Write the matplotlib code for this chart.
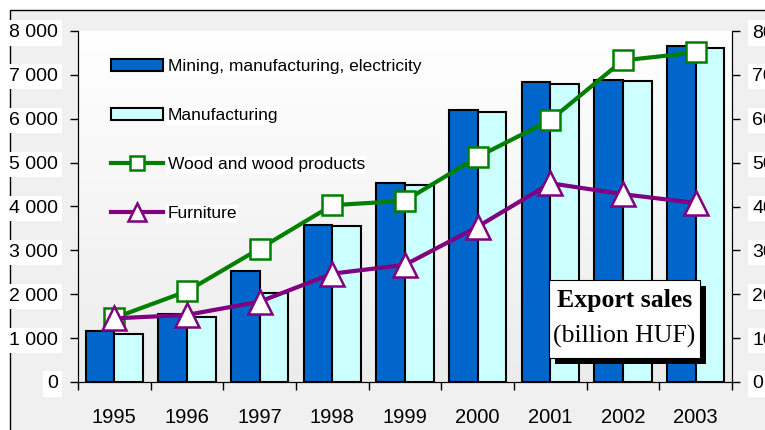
import numpy as np
import matplotlib
matplotlib.use("Agg")
import matplotlib.pyplot as plt
from matplotlib.colors import LinearSegmentedColormap
from matplotlib.patches import Rectangle

years = ["1995", "1996", "1997", "1998", "1999", "2000", "2001", "2002", "2003"]
mining = [1160, 1550, 2540, 3580, 4530, 6200, 6830, 6890, 7660]
manufacturing = [1100, 1490, 2030, 3550, 4490, 6150, 6790, 6860, 7620]
wood = [14.6, 20.7, 30.4, 40.3, 41.3, 51.3, 59.7, 73.3, 75.1]
furniture = [14.5, 15.3, 18.3, 24.7, 26.7, 35.4, 45.3, 42.8, 40.8]
left_ticks = [0, 1000, 2000, 3000, 4000, 5000, 6000, 7000, 8000]
left_labels = ["0", "1 000", "2 000", "3 000", "4 000", "5 000", "6 000", "7 000", "8 000"]
right_ticks = [0, 10, 20, 30, 40, 50, 60, 70, 80]

sans = ["Liberation Sans", "DejaVu Sans"]
serif = ["Liberation Serif", "DejaVu Serif"]
plt.rcParams["font.family"] = sans

W, H = 765, 430
fig = plt.figure(figsize=(W / 100, H / 100), dpi=100, facecolor="white")

# outer frame of the chart area
fig.patches.append(Rectangle((10 / W, -0.2), 1.2, (H - 10) / H + 0.2,
                             transform=fig.transFigure, facecolor="#f0f0f0",
                             edgecolor="black", linewidth=1.0, zorder=-10))

x0, x1, y0, y1 = 78, 732, 31, 382
ax = fig.add_axes([x0 / W, (H - y1) / H, (x1 - x0) / W, (y1 - y0) / H])
ax.set_facecolor("none")

x = np.arange(len(years))
bw = 0.395
ax.bar(x - bw / 2, mining, bw, color="#0066cc", edgecolor="black", linewidth=1.5,
       label="Mining, manufacturing, electricity", zorder=2)
ax.bar(x + bw / 2, manufacturing, bw, color="#ccffff", edgecolor="black", linewidth=1.5,
       label="Manufacturing", zorder=2)
ax.set_xlim(-0.5, len(years) - 0.5)
ax.set_ylim(0, 8000)

grad = LinearSegmentedColormap.from_list("g", ["#ececec", "#ffffff"])
ax.imshow(np.linspace(0, 1, 256).reshape(-1, 1), extent=[-0.5, len(years) - 0.5, 0, 8000],
          aspect="auto", cmap=grad, origin="lower", zorder=0)

ax.set_yticks(left_ticks)
ax.set_yticklabels(left_labels, fontsize=14)
ax.tick_params(axis="y", direction="out", length=5.5, width=1, pad=9)
ax.set_xticks(np.arange(len(years) + 1) - 0.5)
ax.set_xticklabels([])
ax.set_xticks(x, minor=True)
ax.set_xticklabels(years, minor=True, fontsize=14.5)
ax.tick_params(axis="x", which="major", direction="out", length=6, width=1)
ax.tick_params(axis="x", which="minor", length=0, pad=19)
ax.spines["top"].set_visible(False)
for lbl in ax.get_yticklabels():
    lbl.set_bbox(dict(facecolor="white", edgecolor="none", pad=3))

ax2 = ax.twinx()
ax2.plot(x, wood, color="#008000", linewidth=3, marker="s", markersize=14,
         markerfacecolor="white", markeredgecolor="#008000", markeredgewidth=1.8,
         label="Wood and wood products", zorder=3)
ax2.plot(x, furniture, color="#800080", linewidth=3, marker="^", markersize=17,
         markerfacecolor="white", markeredgecolor="#800080", markeredgewidth=1.8,
         label="Furniture", zorder=3)
ax2.set_ylim(0, 80)
ax2.set_yticks(right_ticks)
ax2.set_yticklabels([str(v) for v in right_ticks], fontsize=14)
ax2.tick_params(axis="y", direction="out", length=5.5, width=1, pad=9)
ax2.spines["top"].set_visible(False)
for lbl in ax2.get_yticklabels():
    lbl.set_bbox(dict(facecolor="white", edgecolor="none", pad=3))

h1, l1 = ax.get_legend_handles_labels()
h2, l2 = ax2.get_legend_handles_labels()
leg = ax2.legend(h1 + h2, l1 + l2, loc="upper left", bbox_to_anchor=(0.040, 0.94),
                 frameon=False, fontsize=12.5, handlelength=3.0, handletextpad=0.25,
                 labelspacing=1.95, markerscale=0.75, borderaxespad=0)
for t in leg.get_texts():
    t.set_bbox(dict(facecolor="white", edgecolor="none", pad=1))

# "Export sales" box with shadow
def fx(px):
    return (px - x0) / (x1 - x0)


def fy(py):
    return (y1 - py) / (y1 - y0)


bx0, by0, bx1, by1 = 549, 280, 700, 358
ax2.add_patch(Rectangle((fx(bx0 + 6), fy(by1 + 6)), fx(bx1) - fx(bx0), fy(by0) - fy(by1),
                        transform=ax2.transAxes, facecolor="black", edgecolor="none",
                        zorder=5, clip_on=False))
ax2.add_patch(Rectangle((fx(bx0), fy(by1)), fx(bx1) - fx(bx0), fy(by0) - fy(by1),
                        transform=ax2.transAxes, facecolor="white", edgecolor="black",
                        linewidth=0.8, zorder=6, clip_on=False))
ax2.text(fx(624.5), fy(301), "Export sales", transform=ax2.transAxes, ha="center",
         va="center", fontsize=18.5, fontweight="bold", family=serif, zorder=7)
ax2.text(fx(624.5), fy(336), "(billion HUF)", transform=ax2.transAxes, ha="center",
         va="center", fontsize=18.5, family=serif, zorder=7)

fig.savefig("out.png", dpi=100)
